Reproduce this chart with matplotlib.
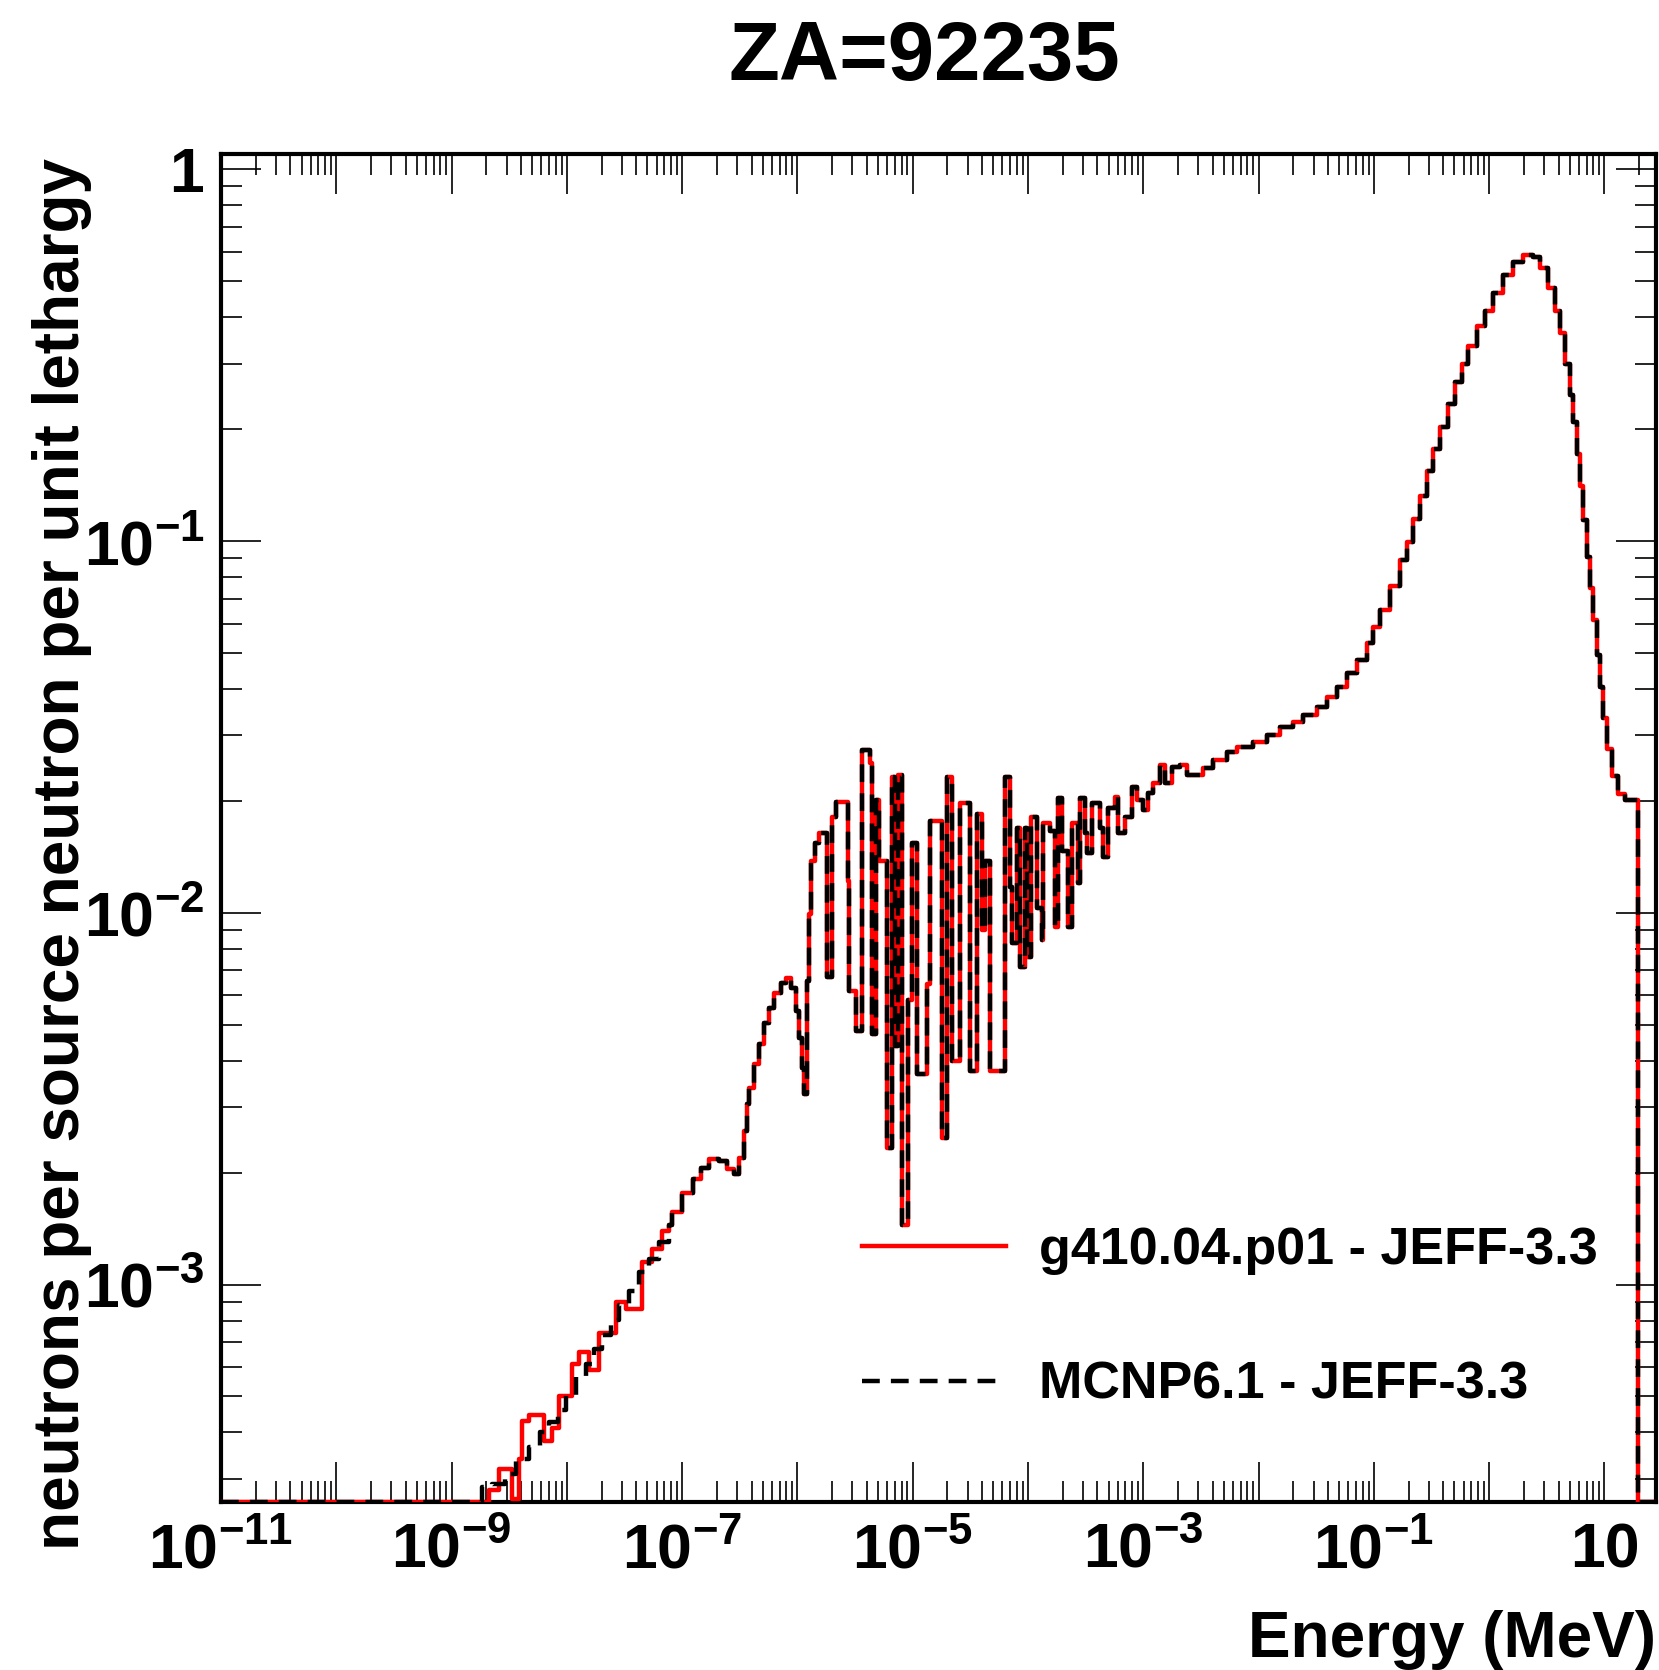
import numpy as np
import matplotlib
matplotlib.use("Agg")
import matplotlib.pyplot as plt
from matplotlib.ticker import FixedLocator, FuncFormatter, LogLocator, NullFormatter

plt.rcParams['font.family'] = ['Liberation Sans', 'DejaVu Sans']
plt.rcParams['font.weight'] = 'bold'
plt.rcParams['mathtext.fontset'] = 'custom'
plt.rcParams['mathtext.rm'] = 'Liberation Sans:bold'
plt.rcParams['mathtext.it'] = 'Liberation Sans:bold'
plt.rcParams['mathtext.bf'] = 'Liberation Sans:bold'

title = 'ZA=92235'
label_g4 = 'g410.04.p01 - JEFF-3.3'
label_mcnp = 'MCNP6.1 - JEFF-3.3'

# MCNP6.1 histogram: lower bin edge (MeV) and flux per unit lethargy
energy_mcnp = [
    1e-11, 1.85e-9, 2.25e-9, 2.9e-9, 3.6e-9, 4.7e-9, 5.8e-9, 7.0e-9, 8.3e-9, 9.9e-9,
    1.21e-8, 1.47e-8, 1.73e-8, 2.03e-8, 2.43e-8, 2.85e-8, 3.48e-8, 4.25e-8, 5.19e-8, 6.34e-8,
    7.74e-8, 8.22e-8, 1.0e-7, 1.23e-7, 1.47e-7, 1.72e-7, 2.10e-7, 2.47e-7, 2.84e-7, 3.14e-7,
    3.47e-7, 3.68e-7, 3.83e-7, 4.23e-7, 4.68e-7, 5.17e-7, 5.71e-7, 6.31e-7, 7.26e-7, 8.03e-7,
    8.87e-7, 9.80e-7, 1.04e-6, 1.10e-6, 1.15e-6, 1.20e-6, 1.27e-6, 1.32e-6, 1.41e-6, 1.55e-6,
    1.82e-6, 2.01e-6, 2.18e-6, 2.72e-6, 2.82e-6, 3.25e-6, 3.66e-6, 4.22e-6, 4.39e-6, 4.85e-6,
    5.15e-6, 5.93e-6, 6.55e-6, 6.95e-6, 7.38e-6, 8.15e-6, 9.02e-6, 9.77e-6, 1.10e-5, 1.32e-5,
    1.40e-5, 1.78e-5, 2.0e-5, 2.17e-5, 2.55e-5, 3.11e-5, 3.58e-5, 4.0e-5, 4.2e-5, 4.65e-5,
    6.27e-5, 6.92e-5, 7.21e-5, 7.96e-5, 8.45e-5, 9.33e-5, 9.73e-5, 1.07e-4, 1.19e-4, 1.31e-4,
    1.34e-4, 1.54e-4, 1.70e-4, 1.81e-4, 1.96e-4, 2.21e-4, 2.39e-4, 2.70e-4, 2.81e-4, 3.10e-4,
    3.23e-4, 3.56e-4, 4.19e-4, 4.45e-4, 4.91e-4, 5.65e-4, 6.0e-4, 6.9e-4, 7.93e-4, 8.77e-4,
    9.89e-4, 1.09e-3, 1.21e-3, 1.39e-3, 1.53e-3, 1.77e-3, 2.07e-3, 2.38e-3, 3.28e-3, 4.0e-3,
    5.3e-3, 6.47e-3, 8.91e-3, 1.18e-2, 1.53e-2, 1.98e-2, 2.42e-2, 3.2e-2, 3.91e-2, 4.77e-2,
    5.83e-2, 7.11e-2, 8.69e-2, 9.8e-2, 0.113, 0.138, 0.168, 0.193, 0.218, 0.251,
    0.288, 0.325, 0.374, 0.439, 0.505, 0.581, 0.655, 0.783, 0.920, 1.08,
    1.32, 1.61, 1.96, 2.40, 2.76, 3.24, 3.72, 4.12, 4.55, 5.03,
    5.34, 5.78, 6.14, 6.52, 7.06, 7.50, 7.96, 8.62, 9.16, 9.73,
    10.5, 11.6, 13.1, 15.1, 19.5, 28.0,
]
flux_mcnp = [
    0, 2.85e-4, 2.9e-4, 3.1e-4, 3.4e-4, 3.66e-4, 4.0e-4, 4.27e-4, 4.6e-4, 5.06e-4,
    5.65e-4, 6.1e-4, 6.7e-4, 7.3e-4, 8.05e-4, 8.8e-4, 9.6e-4, 1.08e-3, 1.17e-3, 1.3e-3,
    1.45e-3, 1.57e-3, 1.76e-3, 1.92e-3, 2.06e-3, 2.17e-3, 2.15e-3, 2.04e-3, 1.98e-3, 2.19e-3,
    2.59e-3, 3.06e-3, 3.38e-3, 3.93e-3, 4.45e-3, 5.04e-3, 5.56e-3, 6.07e-3, 6.46e-3, 6.66e-3,
    6.29e-3, 5.45e-3, 4.61e-3, 3.83e-3, 3.26e-3, 6.57e-3, 9.95e-3, 1.38e-2, 1.54e-2, 1.64e-2,
    6.70e-3, 1.81e-2, 1.99e-2, 1.22e-2, 6.18e-3, 4.82e-3, 2.74e-2, 2.53e-2, 4.73e-3, 2.01e-2,
    1.38e-2, 2.33e-3, 2.32e-2, 4.39e-3, 2.35e-2, 1.45e-3, 5.81e-3, 1.54e-2, 3.69e-3, 6.45e-3,
    1.77e-2, 2.48e-3, 2.32e-2, 4.0e-3, 1.97e-2, 3.76e-3, 1.85e-2, 9.0e-3, 1.38e-2, 3.76e-3,
    2.32e-2, 1.17e-2, 8.27e-3, 1.69e-2, 7.13e-3, 1.69e-2, 7.59e-3, 1.81e-2, 1.03e-2, 8.43e-3,
    1.74e-2, 1.66e-2, 9.14e-3, 2.04e-2, 1.47e-2, 9.14e-3, 1.74e-2, 1.20e-2, 2.04e-2, 1.64e-2,
    1.45e-2, 1.97e-2, 1.69e-2, 1.41e-2, 1.92e-2, 2.05e-2, 1.64e-2, 1.81e-2, 2.18e-2, 2.01e-2,
    1.89e-2, 2.10e-2, 2.23e-2, 2.50e-2, 2.23e-2, 2.47e-2, 2.50e-2, 2.35e-2, 2.45e-2, 2.58e-2,
    2.71e-2, 2.79e-2, 2.88e-2, 3.01e-2, 3.16e-2, 3.26e-2, 3.41e-2, 3.58e-2, 3.81e-2, 4.06e-2,
    4.42e-2, 4.80e-2, 5.33e-2, 5.89e-2, 6.54e-2, 7.55e-2, 8.9e-2, 9.93e-2, 0.115, 0.132,
    0.154, 0.177, 0.203, 0.234, 0.268, 0.300, 0.335, 0.379, 0.417, 0.466,
    0.521, 0.565, 0.590, 0.582, 0.544, 0.481, 0.417, 0.363, 0.300, 0.247,
    0.209, 0.172, 0.141, 0.114, 0.0909, 0.0750, 0.0615, 0.0495, 0.0406, 0.0334,
    0.0276, 0.0233, 0.0209, 0.0201, 0, 0,
]

# Geant4 histogram: differs from MCNP only in the noisy thermal part
energy_g4_low = [
    1e-11, 2.12e-9, 2.59e-9, 3.36e-9, 3.86e-9, 4.10e-9, 4.72e-9, 6.37e-9, 7.46e-9, 8.59e-9,
    1.11e-8, 1.28e-8, 1.56e-8, 1.91e-8, 2.20e-8, 2.69e-8, 3.28e-8, 4.52e-8, 5.51e-8, 6.73e-8,
]
flux_g4_low = [
    0, 2.8e-4, 3.19e-4, 2.65e-4, 3.4e-4, 4.3e-4, 4.45e-4, 3.8e-4, 4.1e-4, 5.0e-4,
    6.1e-4, 6.6e-4, 5.9e-4, 7.4e-4, 7.4e-4, 9.0e-4, 8.6e-4, 1.15e-3, 1.25e-3, 1.39e-3,
]

join = energy_mcnp.index(7.74e-8)
energy_g4 = energy_g4_low + energy_mcnp[join:]
flux_g4 = flux_g4_low + flux_mcnp[join:]

x_min, x_max = 1e-11, 28.0
y_min, y_max = 2.6e-4, 1.1

fig = plt.figure(figsize=(16.59, 16.70), dpi=100)
ax = fig.add_axes([221 / 1659, 168 / 1670, (1656 - 221) / 1659, (1502 - 154) / 1670])

# empty bins sit on the bottom of the frame, as ROOT draws them
ax.step(energy_g4, np.clip(flux_g4, y_min, None), where='post', color='red', lw=3.2,
        label=label_g4, zorder=3)
ax.step(energy_mcnp, np.clip(flux_mcnp, y_min, None), where='post', color='black', lw=3.2,
        ls=(0, (4, 2.5)), label=label_mcnp, zorder=4)

ax.set_xscale('log')
ax.set_yscale('log')
ax.set_xlim(x_min, x_max)
ax.set_ylim(y_min, y_max)


def x_label(v, pos):
    k = int(round(np.log10(v)))
    if k == 1:
        return '10'
    if k % 2 == 1:
        return r'$10^{%d}$' % k
    return ''


def y_label(v, pos):
    k = int(round(np.log10(v)))
    if k == 0:
        return '1'
    return r'$10^{%d}$' % k


ax.xaxis.set_major_locator(FixedLocator([10.0 ** k for k in range(-11, 2)]))
ax.xaxis.set_major_formatter(FuncFormatter(x_label))
ax.xaxis.set_minor_locator(LogLocator(base=10, subs=np.arange(2, 10), numticks=40))
ax.xaxis.set_minor_formatter(NullFormatter())
ax.yaxis.set_major_locator(FixedLocator([1e-3, 1e-2, 1e-1, 1.0]))
ax.yaxis.set_major_formatter(FuncFormatter(y_label))
ax.yaxis.set_minor_locator(LogLocator(base=10, subs=np.arange(2, 10), numticks=40))
ax.yaxis.set_minor_formatter(NullFormatter())

ax.tick_params(which='both', direction='in', top=True, right=True, width=1.2, labelsize=45)
ax.tick_params(which='major', length=29)
ax.tick_params(which='minor', length=15)
ax.tick_params(axis='x', pad=14)
ax.tick_params(axis='y', pad=12)
for s in ax.spines.values():
    s.set_linewidth(3)
    s.set_zorder(2.5)

fig.text(924 / 1659, 1 - 58 / 1670, title, ha='center', va='center', fontsize=60,
         fontweight='bold')
fig.text(62 / 1659, 1 - 158 / 1670, 'neutrons per source neutron per unit lethargy',
         rotation=90, ha='center', va='top', fontsize=46, fontweight='bold')
fig.text(1656 / 1659, 1 - 1640 / 1670, 'Energy (MeV)', ha='right', va='center',
         fontsize=46, fontweight='bold')

ax.legend(loc='upper left', bbox_to_anchor=(862 / 1659, 1 - 1226 / 1670),
          bbox_transform=fig.transFigure, frameon=False, fontsize=37.5,
          handlelength=2.77, handletextpad=0.62, labelspacing=1.65, borderpad=0,
          borderaxespad=0)

fig.savefig('out.png', dpi=100)
